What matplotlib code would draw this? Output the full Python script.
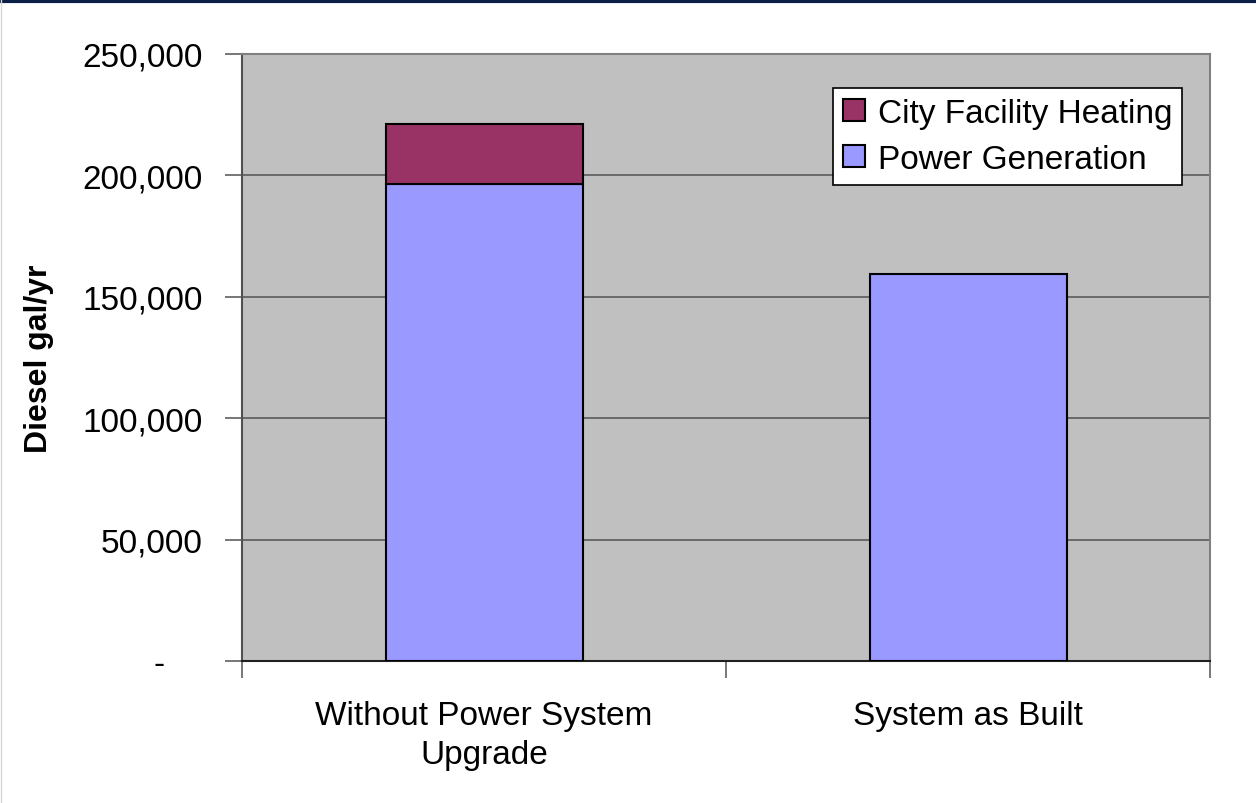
import matplotlib
matplotlib.use("Agg")
import matplotlib.pyplot as plt
from matplotlib.lines import Line2D
from matplotlib.ticker import FuncFormatter, FixedLocator

plt.rcParams['font.family'] = ['Liberation Sans', 'DejaVu Sans']

# Annual diesel use by scenario
scenarios = ["Without Power System\nUpgrade", "System as Built"]
power_generation = [196500, 159400]
facility_heating = [24700, 0]


def fmt_thousands(v, pos):
    if v == 0:
        return "-    "
    return f"{v:,.0f}"


def main():
    fig = plt.figure(figsize=(12.56, 8.04), dpi=100)
    ax = fig.add_axes([0.1927, 0.1766, 0.7707, 0.755])
    ax.set_facecolor("#C0C0C0")

    x = range(len(scenarios))
    ax.bar(x, power_generation, width=0.407, color="#9999FF",
           edgecolor="black", linewidth=1.5, label="Power Generation", zorder=3)
    # heating only stacks where there is any
    heat_x = [i for i in x if facility_heating[i] > 0]
    ax.bar(heat_x, [facility_heating[i] for i in heat_x], width=0.407,
           bottom=[power_generation[i] for i in heat_x], color="#993366",
           edgecolor="black", linewidth=1.5, label="City Facility Heating",
           zorder=3)

    ax.set_xlim(-0.5, 1.5)
    ax.set_ylim(0, 250000)

    ax.yaxis.set_major_locator(FixedLocator(range(0, 250001, 50000)))
    ax.yaxis.set_major_formatter(FuncFormatter(fmt_thousands))
    ax.tick_params(axis="y", direction="out", length=12, width=1.2,
                   color="#606060", pad=16.5, labelsize=24)
    ax.grid(axis="y", color="#5a5a5a", linewidth=1.2, zorder=1)
    ax.set_axisbelow(True)

    ax.set_xticks(list(x))
    ax.set_xticklabels(scenarios, fontsize=24, linespacing=1.35)
    ax.tick_params(axis="x", which="major", length=0, pad=28)
    ax.set_xticks([-0.5, 0.5, 1.5], minor=True)
    ax.tick_params(axis="x", which="minor", direction="out", length=12,
                   width=1.2, color="#606060")

    ax.set_ylabel("Diesel gal/yr", fontsize=23, fontweight="bold", labelpad=20)

    for side in ("top", "right"):
        ax.spines[side].set_color("#808080")
        ax.spines[side].set_linewidth(1.5)
    ax.spines["left"].set_color("#505050")
    ax.spines["left"].set_linewidth(1.5)
    ax.spines["bottom"].set_color("#202020")
    ax.spines["bottom"].set_linewidth(1.5)

    handles, labels = ax.get_legend_handles_labels()
    leg = ax.legend(handles[::-1], labels[::-1], loc="upper left",
                    bbox_to_anchor=(0.6105, 0.944), fontsize=24,
                    frameon=True, fancybox=False, borderaxespad=0,
                    handlelength=0.65, handleheight=0.65, handletextpad=0.4,
                    labelspacing=0.45, borderpad=0.3)
    leg.get_frame().set_edgecolor("black")
    leg.get_frame().set_linewidth(1.2)
    leg.get_frame().set_facecolor("white")
    leg.get_frame().set_alpha(1)

    # dark band along the top edge and thin line on the left
    fig.add_artist(Line2D([0, 1], [0.998, 0.998], color="#0B1E45",
                          linewidth=3, transform=fig.transFigure))
    fig.add_artist(Line2D([0.0005, 0.0005], [0, 1], color="#D8D8D8",
                          linewidth=1, transform=fig.transFigure))

    fig.savefig("out.png", dpi=100)


if __name__ == "__main__":
    main()
